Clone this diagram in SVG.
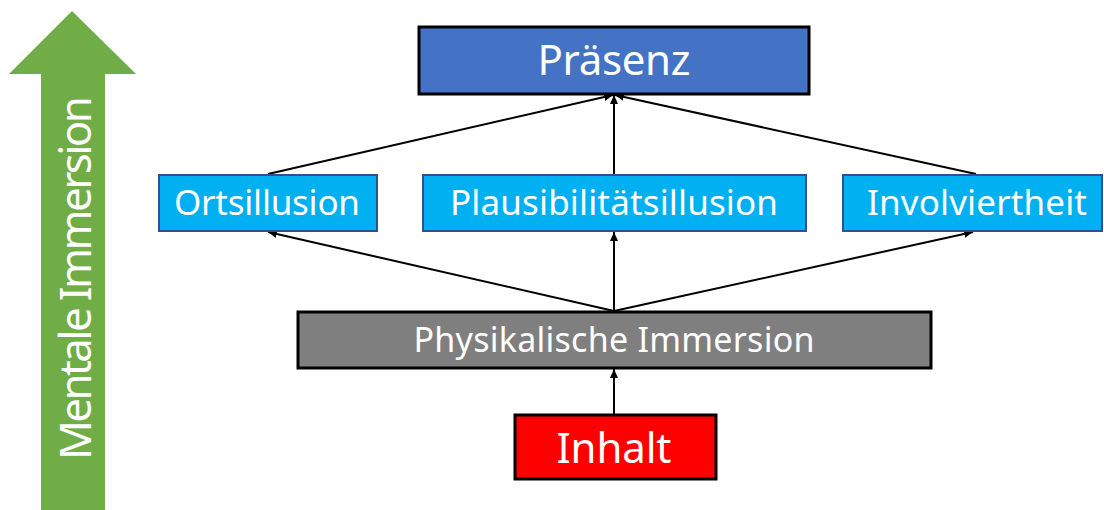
<svg xmlns="http://www.w3.org/2000/svg" width="1104" height="510" viewBox="0 0 1104 510">
<defs>
<style>
.t{font-family:"Noto Sans","Liberation Sans",sans-serif;fill:#fff;text-anchor:middle}
.c{stroke:#000;stroke-width:2;fill:none;marker-end:url(#ah)}
.cy{fill:#00B0F0;stroke:#2F528F;stroke-width:2}
</style>
<marker id="ah" markerUnits="userSpaceOnUse" markerWidth="10" markerHeight="8" refX="9" refY="4" orient="auto">
<path d="M0,0 L9,4 L0,8 z" fill="#000"/>
</marker>
</defs>
<rect width="1104" height="510" fill="#fff"/>
<g id="mentale-immersion">
<polygon points="41,510 41,74 9,74 72,11 136,74 105,74 105,510" fill="#70AD47"/>
<text class="t" transform="translate(91,278) rotate(-90)" font-size="44" textLength="364">Mentale Immersion</text>
</g>
<g id="connectors">
<line class="c" x1="614" y1="311" x2="268" y2="232"/>
<line class="c" x1="614" y1="311" x2="614" y2="232"/>
<line class="c" x1="614" y1="311" x2="973" y2="232"/>
<line class="c" x1="268" y1="174" x2="613" y2="95"/>
<line class="c" x1="614" y1="174" x2="614" y2="95"/>
<line class="c" x1="976" y1="174" x2="615" y2="95"/>
<line class="c" x1="614" y1="414" x2="614" y2="369"/>
</g>
<g id="praesenz">
<rect x="419" y="27" width="390" height="67" fill="#4472C4" stroke="#000" stroke-width="3"/>
<text class="t" x="614" y="75" font-size="42" textLength="153">Präsenz</text>
</g>
<g id="ortsillusion">
<rect class="cy" x="159" y="175" width="218" height="56"/>
<text class="t" x="267" y="215" font-size="35" textLength="186">Ortsillusion</text>
</g>
<g id="plausibilitaetsillusion">
<rect class="cy" x="423" y="175" width="383" height="56"/>
<text class="t" x="614" y="215" font-size="35" textLength="328">Plausibilitätsillusion</text>
</g>
<g id="involviertheit">
<rect class="cy" x="843" y="175" width="259" height="56"/>
<text class="t" x="977" y="215" font-size="35" textLength="220">Involviertheit</text>
</g>
<g id="physikalische-immersion">
<rect x="298" y="312" width="633" height="56" fill="#7F7F7F" stroke="#000" stroke-width="3"/>
<text class="t" x="614" y="352" font-size="34" textLength="401" fill="#F2F2F2">Physikalische Immersion</text>
</g>
<g id="inhalt">
<rect x="515" y="415" width="201" height="64" fill="#FF0000" stroke="#000" stroke-width="3"/>
<text class="t" x="614" y="463" font-size="42" textLength="115">Inhalt</text>
</g>
</svg>
